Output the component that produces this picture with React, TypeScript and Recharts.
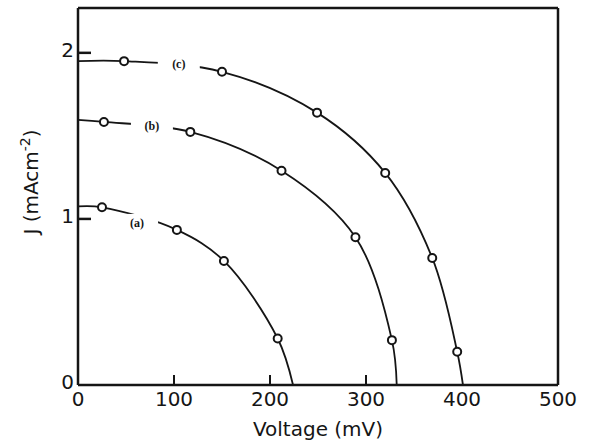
import { ComposedChart, Line, Scatter, XAxis, YAxis, ReferenceDot, ReferenceLine } from 'recharts';

// measured points (circles), V in mV, J in mA cm^-2
const measuredA = [
  { v: 25, j: 1.07 },
  { v: 103, j: 0.934 },
  { v: 152, j: 0.747 },
  { v: 208, j: 0.28 },
];
const measuredB = [
  { v: 27, j: 1.584 },
  { v: 117, j: 1.524 },
  { v: 212, j: 1.29 },
  { v: 289, j: 0.89 },
  { v: 327, j: 0.27 },
];
const measuredC = [
  { v: 48, j: 1.95 },
  { v: 150, j: 1.886 },
  { v: 249, j: 1.64 },
  { v: 320, j: 1.277 },
  { v: 369, j: 0.765 },
  { v: 395, j: 0.2 },
];

// short-circuit current and open-circuit voltage
const jsc = { a: 1.075, b: 1.596, c: 1.95 };
const voc = { a: 224, b: 332, c: 401 };

const curveLabels = [
  { name: '(a)', v: 61.5, j: 0.976 },
  { name: '(b)', v: 77, j: 1.56 },
  { name: '(c)', v: 105, j: 1.93 },
];

const xTicks = [0, 100, 200, 300, 400, 500];
const yTicks = [0, 1, 2];
const X_MAX = 500;
const Y_MAX = 2.27;

const curve = (start: number, pts: { v: number; j: number }[], end: number) => [
  { v: 0, j: start },
  ...pts,
  { v: end, j: 0 },
];

const curveA = curve(jsc.a, measuredA, voc.a);
const curveB = curve(jsc.b, measuredB, voc.b);
const curveC = curve(jsc.c, measuredC, voc.c);

const INK = '#151515';
const FONT = '"DejaVu Sans", "Liberation Sans", sans-serif';

// centripetal Catmull-Rom (same maths as d3's curveCatmullRom, alpha 0.5)
const smoothCurve = (ctx: any) => {
  let pts: number[][] = [];
  return {
    areaStart() {},
    areaEnd() {},
    lineStart() {
      pts = [];
    },
    point(x: number, y: number) {
      pts.push([+x, +y]);
    },
    lineEnd() {
      if (!pts.length) return;
      ctx.moveTo(pts[0][0], pts[0][1]);
      const dist = (a: number[], b: number[]) => Math.hypot(b[0] - a[0], b[1] - a[1]);
      for (let i = 0; i < pts.length - 1; i++) {
        const p0 = pts[i - 1] || pts[i];
        const p1 = pts[i];
        const p2 = pts[i + 1];
        const p3 = pts[i + 2] || p2;
        const d01 = dist(p0, p1);
        const d12 = dist(p1, p2);
        const d23 = dist(p2, p3);
        const l01 = Math.sqrt(d01);
        const l12 = Math.sqrt(d12);
        const l23 = Math.sqrt(d23);
        let x1 = p1[0];
        let y1 = p1[1];
        let x2 = p2[0];
        let y2 = p2[1];
        if (l01 > 1e-6) {
          const a = 2 * d01 + 3 * l01 * l12 + d12;
          const n = 3 * l01 * (l01 + l12);
          x1 = (p1[0] * a - p0[0] * d12 + p2[0] * d01) / n;
          y1 = (p1[1] * a - p0[1] * d12 + p2[1] * d01) / n;
        }
        if (l23 > 1e-6) {
          const b = 2 * d23 + 3 * l23 * l12 + d12;
          const m = 3 * l23 * (l23 + l12);
          x2 = (p2[0] * b + p1[0] * d23 - p3[0] * d12) / m;
          y2 = (p2[1] * b + p1[1] * d23 - p3[1] * d12) / m;
        }
        ctx.bezierCurveTo(x1, y1, x2, y2, p2[0], p2[1]);
      }
    },
  };
};

const XTick = (props: any) => {
  const { x, y, payload } = props;
  const val = payload.value;
  const inner = val > 0 && val < 400;
  return (
    <g>
      {inner && <line x1={x} x2={x} y1={y} y2={y - 10} stroke={INK} strokeWidth={2} />}
      <text x={x} y={y + 21} textAnchor="middle" fontSize={20} fill={INK} fontFamily={FONT}>
        {val}
      </text>
    </g>
  );
};

const YTick = (props: any) => {
  const { x, y, payload } = props;
  const val = payload.value;
  return (
    <g>
      {val > 0 && <line x1={x} x2={x + 13} y1={y} y2={y} stroke={INK} strokeWidth={2.5} />}
      <text x={x - 4} y={y + 4} textAnchor="end" fontSize={20} fill={INK} fontFamily={FONT}>
        {val}
      </text>
    </g>
  );
};

const Marker = (props: any) => (
  <circle cx={props.cx} cy={props.cy} r={4} fill="#fff" stroke={INK} strokeWidth={2} />
);

const CurveTag = (name: string) => (props: any) => (
  <g>
    <rect x={props.cx - 21} y={props.cy - 9} width={42} height={18} fill="#fff" />
    <text
      x={props.cx}
      y={props.cy + 4}
      textAnchor="middle"
      fontSize={12}
      fontWeight="bold"
      fontFamily='"Liberation Serif", "DejaVu Serif", serif'
      fill={INK}
    >
      {name}
    </text>
  </g>
);

export default function App() {
  return (
    <div style={{ position: 'absolute', left: 0, top: 0, background: '#fff' }}>
      <ComposedChart
        width={589}
        height={446}
        margin={{ top: 8, right: 31, bottom: 0, left: 0 }}
      >
        <XAxis
          type="number"
          dataKey="v"
          domain={[0, X_MAX]}
          ticks={xTicks}
          height={61}
          tickSize={0}
          tickMargin={0}
          axisLine={{ stroke: INK, strokeWidth: 2.5 }}
          tickLine={false}
          tick={<XTick />}
          label={{
            value: 'Voltage (mV)',
            position: 'insideBottom',
            offset: 10,
            fontSize: 20,
            fill: INK,
            fontFamily: FONT,
          }}
        />
        <YAxis
          type="number"
          dataKey="j"
          domain={[0, Y_MAX]}
          ticks={yTicks}
          width={78}
          tickSize={0}
          tickMargin={0}
          axisLine={{ stroke: INK, strokeWidth: 2.5 }}
          tickLine={false}
          tick={<YTick />}
          label={{
            content: () => (
              <text
                transform="translate(38,182) rotate(-90)"
                textAnchor="middle"
                fontSize={20}
                fill={INK}
                fontFamily={FONT}
              >
                J (mAcm
                <tspan dy={-8} fontSize={14}>-2</tspan>
                <tspan dy={8}>)</tspan>
              </text>
            ),
          }}
        />
        {/* frame: top and right */}
        <ReferenceLine y={Y_MAX} stroke={INK} strokeWidth={2.5} ifOverflow="visible" />
        <ReferenceLine x={X_MAX} stroke={INK} strokeWidth={2.5} ifOverflow="visible" />
        {[curveA, curveB, curveC].map((d, i) => (
          <Line
            key={`curve-${i}`}
            data={d}
            dataKey="j"
            type={smoothCurve as any}
            stroke={INK}
            strokeWidth={1.8}
            dot={false}
            activeDot={false}
            isAnimationActive={false}
          />
        ))}
        {curveLabels.map((l) => (
          <ReferenceDot key={l.name} x={l.v} y={l.j} r={0} shape={CurveTag(l.name)} />
        ))}
        {[measuredA, measuredB, measuredC].map((d, i) => (
          <Scatter
            key={`pts-${i}`}
            data={d}
            dataKey="j"
            shape={<Marker />}
            isAnimationActive={false}
          />
        ))}
      </ComposedChart>
    </div>
  );
}
